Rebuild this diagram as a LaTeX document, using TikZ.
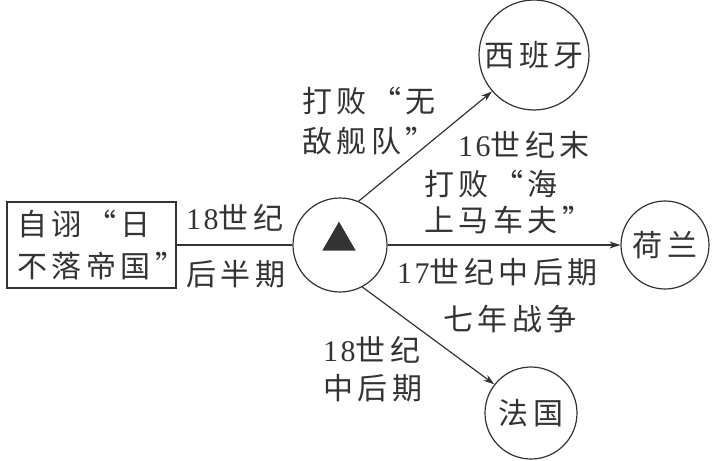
\documentclass[tikz,border=0pt]{standalone}
\usepackage{fontspec}
\setmainfont{Liberation Serif}[LetterSpace=8]
\newfontfamily\cjk{Noto Sans CJK SC}[LetterSpace=15]
\usetikzlibrary{arrows.meta,shapes.geometric}
\definecolor{ink}{HTML}{333333}
\begin{document}
\begin{tikzpicture}[x=1pt,y=-1pt,
  every node/.style={text=ink, inner sep=0pt},
  txt/.style={font=\fontsize{30}{40}\selectfont, align=left, anchor=west},
  country/.style={draw=ink, line width=1.2pt, circle, font=\fontsize{30}{40}\selectfont\cjk},
  conn/.style={draw=ink, line width=1.2pt},
  arr/.style={conn, -{Stealth[length=11pt,width=7pt]}}]
\useasboundingbox (0,0) rectangle (714,460);
\node[draw=ink, line width=1.2pt, text width=149pt, inner xsep=10pt, minimum height=86pt,
      font=\fontsize{30}{42}\selectfont\cjk, align=left] (box) at (91.5,245)
      {自诩“日\\不落帝国”};
\node[draw=ink, line width=1.2pt, circle, minimum size=94pt] (c) at (340,245) {};
\node[fill=ink, draw=none, isosceles triangle, isosceles triangle apex angle=60,
      shape border rotate=90, minimum height=29pt, inner sep=0pt] (tri) at (339,241) {};
\node[country, minimum size=110pt] (es) at (534,55) {西班牙};
\node[country, minimum size=88pt] (nl) at (665,245) {荷兰};
\node[country, minimum size=92pt] (fr) at (531,413) {法国};
\draw[conn] (box.east) -- (c.west);
\draw[arr] (c.67) -- (es.221);
\draw[arr] (c.east) -- (nl.west);
\draw[arr] (c.298) -- (fr.142);
\node[txt] (l18a) at (186,246) {18{\cjk 世纪}\\[16pt]{\cjk 后半期}};
\node[txt, font=\fontsize{30}{40}\selectfont\cjk] (lwd) at (302,121) {打败“无\\敌舰队”};
\node[txt] (l16) at (458,145) {16{\cjk 世纪末}};
\node[txt, font=\fontsize{30}{36}\selectfont\cjk] (lhs) at (424,202) {打败“海\\上马车夫”};
\node[txt] (l17) at (397,272) {17{\cjk 世纪中后期}};
\node[txt, font=\fontsize{30}{40}\selectfont\cjk] (l7y) at (443,319) {七年战争};
\node[txt, font=\fontsize{30}{38}\selectfont] (l18b) at (323,369) {18{\cjk 世纪}\\{\cjk 中后期}};
\end{tikzpicture}
\end{document}
